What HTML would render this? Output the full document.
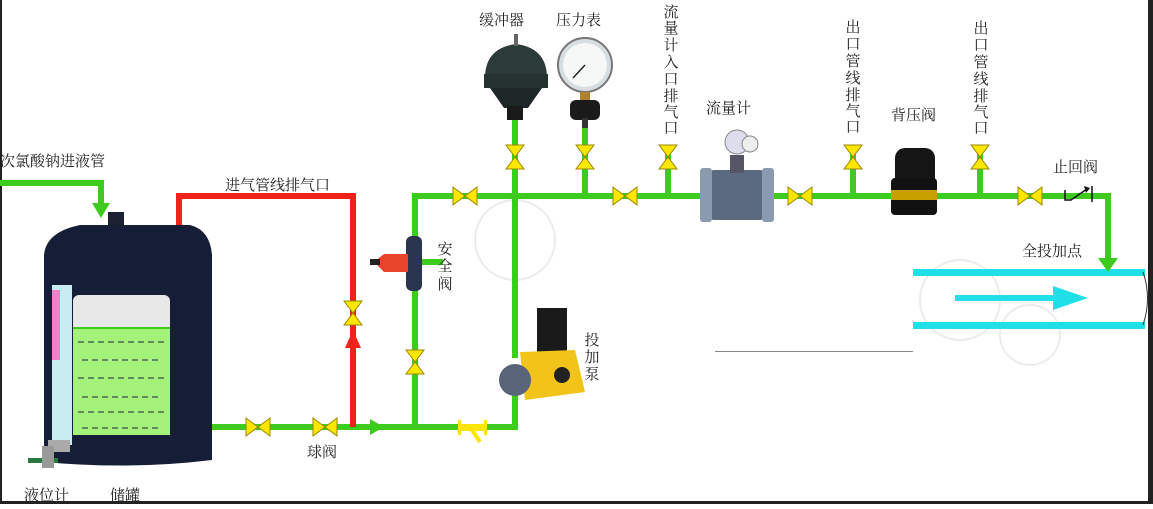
<!DOCTYPE html>
<html><head><meta charset="utf-8"><style>
html,body{margin:0;padding:0;background:#fff}
svg text{font-family:"Liberation Serif","Noto Serif CJK SC",serif;fill:#222}
</style></head><body>
<svg width="1153" height="504" viewBox="0 0 1153 504" xmlns="http://www.w3.org/2000/svg">
<defs>
<g id="vh"><polygon points="-12,-9 0,0 -12,9" fill="#ffe600" stroke="#998800" stroke-width="1"/><polygon points="12,-9 0,0 12,9" fill="#ffe600" stroke="#998800" stroke-width="1"/></g>
<g id="vv"><polygon points="-9,-12 0,0 9,-12" fill="#ffe600" stroke="#998800" stroke-width="1"/><polygon points="-9,12 0,0 9,12" fill="#ffe600" stroke="#998800" stroke-width="1"/></g>
</defs>
<rect width="1153" height="504" fill="#fff"/>
<rect x="0" y="0" width="2" height="504" fill="#222"/>
<rect x="1148" y="0" width="5" height="504" fill="#222"/>
<rect x="0" y="501" width="1153" height="3" fill="#222"/>

<g fill="none" stroke="#ececec" stroke-width="2">
<circle cx="515" cy="240" r="40"/><circle cx="960" cy="300" r="40"/><circle cx="1030" cy="335" r="30"/>
</g>

<rect x="913" y="269" width="232" height="7" fill="#1fe0e8"/>
<rect x="913" y="322" width="232" height="7" fill="#1fe0e8"/>
<rect x="955" y="295" width="100" height="6" fill="#1fe0e8"/>
<polygon points="1053,286 1088,298 1053,310" fill="#1fe0e8"/>
<path d="M1143,272 Q1152,298 1143,325" fill="none" stroke="#333" stroke-width="1"/>
<rect x="715" y="351" width="198" height="1" fill="#888"/>

<g stroke="#3dcc1e" stroke-width="6" fill="none" stroke-linecap="square">
<path d="M2,183 H101 V205"/>
<path d="M202,427 H515 V395"/>
<path d="M415,427 V196 H1108 V262"/>
<path d="M515,196 V120"/>
<path d="M585,196 V120"/>
<path d="M668,196 V150"/>
<path d="M853,196 V150"/>
<path d="M980,196 V150"/>
<path d="M515,196 V355"/>
<path d="M415,262 H440"/>
</g>
<polygon points="92,203 110,203 101,218" fill="#3dcc1e"/>
<polygon points="1098,258 1118,258 1108,272" fill="#3dcc1e"/>
<polygon points="370,419 384,427 370,435" fill="#3dcc1e"/>

<g stroke="#f2221a" stroke-width="6" fill="none">
<path d="M179,242 V196 H353 V427"/>
</g>
<polygon points="345,348 353,330 361,348" fill="#f2221a"/>

<rect x="108" y="212" width="16" height="30" fill="#1b2130"/>
<path d="M44,255 Q46,232 80,225 L190,225 Q210,230 212,255 L212,460 Q130,470 44,462 Z" fill="#161d36"/>
<rect x="73" y="295" width="97" height="140" rx="6" fill="#e8e8e8"/>
<rect x="73" y="328" width="97" height="107" fill="#a4f27a"/>
<rect x="73" y="327" width="97" height="2" fill="#3dcc1e"/>
<g stroke="#224" stroke-width="1" stroke-dasharray="6,4">
<line x1="78" y1="342" x2="165" y2="342"/><line x1="82" y1="360" x2="160" y2="360"/>
<line x1="78" y1="378" x2="165" y2="378"/><line x1="82" y1="397" x2="160" y2="397"/>
<line x1="78" y1="412" x2="165" y2="412"/><line x1="82" y1="428" x2="160" y2="428"/>
</g>
<rect x="52" y="285" width="20" height="160" fill="#c8ecf2"/>
<rect x="52" y="290" width="8" height="70" fill="#f080c8"/>
<rect x="48" y="440" width="22" height="12" fill="#aaa"/>
<rect x="28" y="458" width="30" height="5" fill="#2a7a40"/>
<rect x="42" y="446" width="12" height="22" fill="#999"/>

<use href="#vh" x="258" y="427"/><use href="#vh" x="325" y="427"/>
<use href="#vv" x="353" y="313"/><use href="#vv" x="415" y="362"/>
<use href="#vh" x="465" y="196"/><use href="#vh" x="625" y="196"/>
<use href="#vh" x="800" y="196"/><use href="#vh" x="1030" y="196"/>
<use href="#vv" x="515" y="157"/><use href="#vv" x="585" y="157"/>
<use href="#vv" x="668" y="157"/><use href="#vv" x="853" y="157"/>
<use href="#vv" x="980" y="157"/>
<rect x="458" y="420" width="3" height="15" fill="#ffe600"/><rect x="484" y="420" width="3" height="15" fill="#ffe600"/>
<rect x="460" y="424" width="25" height="7" fill="#ffe600"/>
<line x1="472" y1="430" x2="480" y2="442" stroke="#ffe600" stroke-width="4"/>

<rect x="406" y="236" width="16" height="55" rx="6" fill="#2a3550"/>
<path d="M374,262 L384,254 L408,254 L408,272 L384,272 Z" fill="#e8452a"/>
<rect x="370" y="259" width="10" height="6" fill="#222"/>

<path d="M485,78 Q485,48 516,44 Q547,48 547,78 Z" fill="#2c3b38"/>
<rect x="484" y="74" width="64" height="14" fill="#253230"/>
<path d="M490,88 L542,88 L528,108 L504,108 Z" fill="#1e2828"/>
<rect x="507" y="106" width="16" height="14" fill="#1a1a1a"/>
<rect x="514" y="34" width="4" height="12" fill="#666"/>
<circle cx="585" cy="65" r="27" fill="#d7dee2" stroke="#777" stroke-width="2"/>
<circle cx="585" cy="65" r="22" fill="#f6f8f8"/>
<line x1="585" y1="65" x2="573" y2="78" stroke="#222" stroke-width="1.5"/>
<rect x="580" y="92" width="10" height="10" fill="#b08030"/>
<rect x="570" y="100" width="30" height="20" rx="6" fill="#1a1a1a"/>
<rect x="582" y="118" width="6" height="10" fill="#333"/>

<rect x="710" y="170" width="54" height="50" rx="4" fill="#5b6a7e"/>
<rect x="700" y="168" width="12" height="54" rx="3" fill="#8a9bb0"/>
<rect x="762" y="168" width="12" height="54" rx="3" fill="#8a9bb0"/>
<rect x="730" y="155" width="14" height="18" fill="#556"/>
<circle cx="737" cy="142" r="12" fill="#dde" stroke="#888"/>
<circle cx="750" cy="144" r="8" fill="#eee" stroke="#888"/>

<rect x="895" y="148" width="40" height="40" rx="10" fill="#151515"/>
<rect x="891" y="178" width="46" height="37" rx="4" fill="#111"/>
<rect x="891" y="190" width="46" height="10" fill="#c8a000"/>

<rect x="537" y="308" width="30" height="45" fill="#1a1a1a"/>
<path d="M520,352 L575,350 L585,392 L525,400 Z" fill="#f2c41a"/>
<circle cx="515" cy="380" r="16" fill="#5a6478"/>
<circle cx="562" cy="375" r="8" fill="#222"/>

<path d="M1065,190 V200 H1071 L1087,189" fill="none" stroke="#111" stroke-width="1.5"/>
<polygon points="1084,186 1090,188 1086,193" fill="#111"/>
<line x1="1092" y1="186" x2="1092" y2="202" stroke="#111" stroke-width="1.5"/>

<g font-size="15">
<text x="0" y="166">次氯酸钠进液管</text>
<text x="225" y="190">进气管线排气口</text>
<text x="307" y="457">球阀</text>
<text x="24" y="500">液位计</text>
<text x="110" y="500">储罐</text>
<text x="479" y="25">缓冲器</text>
<text x="556" y="25">压力表</text>
<text x="706" y="113">流量计</text>
<text x="891" y="120">背压阀</text>
<text x="1053" y="172">止回阀</text>
<text x="1022" y="256">全投加点</text>
</g>
<g font-size="15" text-anchor="middle">
<text x="445" y="254">安</text><text x="445" y="271">全</text><text x="445" y="289">阀</text>
<text x="592" y="345">投</text><text x="592" y="362">加</text><text x="592" y="379">泵</text>
<text x="671" y="17">流</text><text x="671" y="33">量</text><text x="671" y="50">计</text><text x="671" y="67">入</text><text x="671" y="84">口</text><text x="671" y="101">排</text><text x="671" y="117">气</text><text x="671" y="133">口</text>
<text x="853" y="32">出</text><text x="853" y="49">口</text><text x="853" y="66">管</text><text x="853" y="83">线</text><text x="853" y="100">排</text><text x="853" y="116">气</text><text x="853" y="132">口</text>
<text x="981" y="33">出</text><text x="981" y="50">口</text><text x="981" y="67">管</text><text x="981" y="84">线</text><text x="981" y="101">排</text><text x="981" y="117">气</text><text x="981" y="133">口</text>
</g>
</svg>
</body></html>
